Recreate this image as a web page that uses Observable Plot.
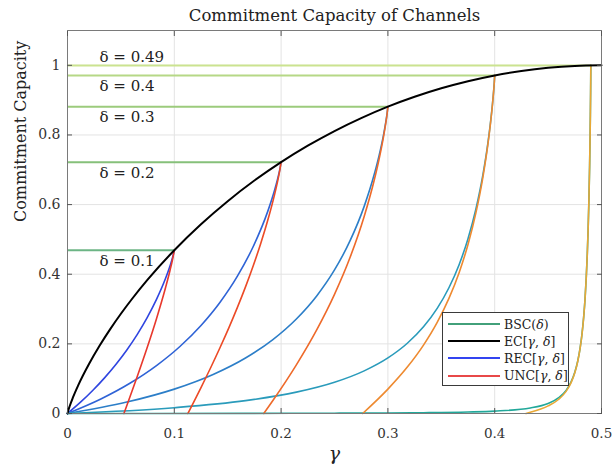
<!DOCTYPE html>
<html><head><meta charset="utf-8">
<script src="https://cdn.jsdelivr.net/npm/d3@7"></script>
<script src="https://cdn.jsdelivr.net/npm/@observablehq/plot@0.6"></script>
<style>
body{margin:0;background:#fff;}
#wrap{position:relative;width:612px;height:466px;font-family:"DejaVu Serif",serif;}
#legend{position:absolute;left:442px;top:312px;width:127px;height:74px;border:1px solid #3a3a3a;background:#fff;box-sizing:border-box;font-size:12.5px;color:#222;}
.row{position:absolute;left:0;height:17px;display:flex;align-items:center;white-space:nowrap;}
.row svg{margin-left:5px;margin-right:4px;}
</style></head><body><div id="wrap"><div id="legend"></div></div>
<script>
// ---------- data ----------
const titleText = "Commitment Capacity of Channels";
const xLabel = "γ";
const yLabel = "Commitment Capacity";
const xTicks = [0, 0.1, 0.2, 0.3, 0.4, 0.5];
const xTickLabels = ["0", "0.1", "0.2", "0.3", "0.4", "0.5"];
const yTicks = [0, 0.2, 0.4, 0.6, 0.8, 1];
const yTickLabels = ["0", "0.2", "0.4", "0.6", "0.8", "1"];

const deltas = [0.1, 0.2, 0.3, 0.4, 0.49];
const bscCap = [0.469, 0.7219, 0.8813, 0.971, 0.9997];

// EC[γ,δ]
const ecX = [0, 0.001, 0.002, 0.005, 0.01, 0.02, 0.03, 0.04, 0.05, 0.06, 0.075, 0.1, 0.125, 0.15, 0.175, 0.2, 0.225, 0.25, 0.275, 0.3, 0.325, 0.35, 0.375, 0.4, 0.425, 0.45, 0.475, 0.5];
const ecY = [0, 0.0114, 0.0208, 0.0454, 0.0808, 0.1414, 0.1944, 0.2423, 0.2864, 0.3274, 0.3843, 0.4690, 0.5436, 0.6098, 0.6690, 0.7219, 0.7692, 0.8113, 0.8485, 0.8813, 0.9097, 0.9341, 0.9544, 0.9710, 0.9837, 0.9928, 0.9982, 1];

// REC[γ,δ]
const rec1X = [0, 0.0122, 0.02381, 0.03488, 0.04545, 0.05556, 0.06522, 0.07447, 0.08333, 0.09184, 0.09596, 0.09839, 0.1];
const rec1Y = [0, 0.0325, 0.0668, 0.1031, 0.1416, 0.1826, 0.2267, 0.2746, 0.3276, 0.3882, 0.4236, 0.4482, 0.469];
const rec2X = [0, 0.03125, 0.05882, 0.08333, 0.10526, 0.125, 0.14286, 0.15909, 0.17391, 0.1875, 0.19388, 0.19697, 0.1988, 0.2];
const rec2Y = [0, 0.0418, 0.0876, 0.1377, 0.1925, 0.2529, 0.3197, 0.3945, 0.4796, 0.5805, 0.6411, 0.6765, 0.7011, 0.7219];
const rec3X = [0, 0.05556, 0.1, 0.13636, 0.16667, 0.19231, 0.21429, 0.23333, 0.25, 0.26471, 0.27778, 0.28723, 0.29167, 0.29592, 0.29798, 0.2992, 0.3];
const rec3Y = [0, 0.0328, 0.07, 0.1121, 0.1594, 0.2123, 0.2715, 0.3377, 0.4123, 0.497, 0.5949, 0.6869, 0.7399, 0.8005, 0.8359, 0.8605, 0.8813];
const rec4X = [0, 0.1, 0.16667, 0.21429, 0.25, 0.27778, 0.3, 0.31818, 0.33333, 0.34615, 0.35714, 0.36667, 0.375, 0.38235, 0.38889, 0.39362, 0.39583, 0.39796, 0.39899, 0.3996, 0.4];
const rec4Y = [0, 0.0166, 0.0369, 0.0613, 0.0897, 0.1225, 0.1597, 0.2018, 0.2491, 0.302, 0.3612, 0.4274, 0.502, 0.5867, 0.6846, 0.7766, 0.8296, 0.8902, 0.9256, 0.9502, 0.971];
const rec5X = [0, 0.16667, 0.25, 0.3, 0.33333, 0.375, 0.4, 0.43333, 0.45, 0.46, 0.46667, 0.47143, 0.475, 0.47778, 0.48, 0.48182, 0.48333, 0.48462, 0.48571, 0.48667, 0.4875, 0.48824, 0.48889, 0.48936, 0.48958, 0.4898, 0.4899, 0.49];
const rec5Y = [0, 0.0004, 0.0009, 0.0015, 0.0023, 0.0043, 0.0069, 0.016, 0.0287, 0.0453, 0.0656, 0.09, 0.1184, 0.1512, 0.1884, 0.2305, 0.2778, 0.3307, 0.3899, 0.4561, 0.5307, 0.6154, 0.7133, 0.8053, 0.8583, 0.9189, 0.9543, 0.9997];

// UNC[γ,δ]
const unc1X = [0.05279, 0.05556, 0.06044, 0.06522, 0.07447, 0.08333, 0.09184, 0.09596, 0.09839, 0.1];
const unc1Y = [0, 0.0232, 0.0644, 0.1055, 0.188, 0.2724, 0.3618, 0.4107, 0.4431, 0.469];
const unc2X = [0.1127, 0.125, 0.13415, 0.14286, 0.15116, 0.15909, 0.16667, 0.17391, 0.18085, 0.1875, 0.19388, 0.19697, 0.1988, 0.2];
const unc2Y = [0, 0.0746, 0.1322, 0.1895, 0.2467, 0.3047, 0.3636, 0.4243, 0.4876, 0.5548, 0.6287, 0.6704, 0.6987, 0.7219];
const unc3X = [0.18377, 0.19231, 0.21429, 0.23333, 0.25, 0.26471, 0.27778, 0.28723, 0.29167, 0.29592, 0.29798, 0.2992, 0.3];
const unc3Y = [0, 0.0373, 0.1398, 0.2402, 0.3423, 0.4494, 0.566, 0.6707, 0.7295, 0.7954, 0.8334, 0.8595, 0.8813];
const unc4X = [0.27639, 0.3, 0.31818, 0.33333, 0.34615, 0.35714, 0.36667, 0.375, 0.38235, 0.38889, 0.39362, 0.39583, 0.39796, 0.39899, 0.3996, 0.4];
const unc4Y = [0, 0.07, 0.1332, 0.1964, 0.2616, 0.3305, 0.4045, 0.4854, 0.5754, 0.6777, 0.7727, 0.8271, 0.889, 0.925, 0.95, 0.971];
const unc5X = [0.42929, 0.43333, 0.45, 0.46, 0.46667, 0.47143, 0.475, 0.47778, 0.48, 0.48182, 0.48333, 0.48462, 0.48571, 0.48667, 0.4875, 0.48824, 0.48889, 0.48936, 0.48958, 0.4898, 0.4899, 0.49];
const unc5Y = [0, 0.0034, 0.0218, 0.041, 0.0627, 0.0879, 0.1169, 0.1501, 0.1876, 0.2298, 0.2773, 0.3303, 0.3896, 0.4559, 0.5306, 0.6153, 0.7132, 0.8053, 0.8583, 0.9189, 0.9543, 0.9997];

const legendNames = ["BSC(<i>δ</i>)", "EC[<i>γ</i>, <i>δ</i>]", "REC[<i>γ</i>, <i>δ</i>]", "UNC[<i>γ</i>, <i>δ</i>]"];

// ---------- styles ----------
const bscColors = ["#6cb585", "#86c07a", "#9ccb7c", "#b6d886", "#cbe390"];
const recColors = ["#2f45e0", "#2f63d6", "#2c7ec8", "#2a9bbb", "#22a89a"];
const uncColors = ["#e8382c", "#ec4a26", "#ee6a2a", "#ee8a30", "#e8a836"];
const legendColors = ["#42a07a", "#000000", "#3344f0", "#e84848"];
const FONT = "DejaVu Serif";

const rows = (xs, ys) => xs.map((x, i) => ({x, y: ys[i]}));
const recData = [[rec1X, rec1Y], [rec2X, rec2Y], [rec3X, rec3Y], [rec4X, rec4Y], [rec5X, rec5Y]];
const uncData = [[unc1X, unc1Y], [unc2X, unc2Y], [unc3X, unc3Y], [unc4X, unc4Y], [unc5X, unc5Y]];
const bscRows = deltas.map((d, i) => ({delta: d, cap: bscCap[i], color: bscColors[i]}));
const labelX = 0.03;

const marks = [
  Plot.gridX(xTicks, {stroke: "#e3e3e3", strokeOpacity: 1}),
  Plot.gridY(yTicks, {stroke: "#e3e3e3", strokeOpacity: 1}),
];
bscRows.forEach(r => marks.push(Plot.ruleY([r], {y: "cap", x1: () => 0, x2: "delta", stroke: r.color, strokeWidth: 2})));
recData.forEach(([xs, ys], i) => marks.push(Plot.line(rows(xs, ys), {x: "x", y: "y", stroke: recColors[i], strokeWidth: 1.6, curve: "monotone-x"})));
uncData.forEach(([xs, ys], i) => marks.push(Plot.line(rows(xs, ys), {x: "x", y: "y", stroke: uncColors[i], strokeWidth: 1.6, curve: "monotone-x"})));
marks.push(Plot.line(rows(ecX, ecY), {x: "x", y: "y", stroke: "#000", strokeWidth: 2, curve: "monotone-x"}));
marks.push(
  Plot.text(bscRows.filter(r => r.delta > 0.45), {x: () => labelX, y: "cap", text: r => `δ = ${r.delta}`, textAnchor: "start", lineAnchor: "middle", dy: -8, fontSize: 15, fill: "#222"}),
  Plot.text(bscRows.filter(r => r.delta < 0.45), {x: () => labelX, y: "cap", text: r => `δ = ${r.delta}`, textAnchor: "start", lineAnchor: "middle", dy: 11, fontSize: 15, fill: "#222"}),
  Plot.frame({stroke: "#7a7a7a"}),
  Plot.axisX(xTicks, {anchor: "bottom", tickSize: -5, tickPadding: 20, tickFormat: d => xTickLabels[xTicks.indexOf(d)], fontSize: 13.5, label: null, stroke: "#555", fill: "#333"}),
  Plot.axisX(xTicks, {anchor: "top", tickSize: -5, tickFormat: () => "", label: null, stroke: "#555"}),
  Plot.axisY(yTicks, {anchor: "left", tickSize: -5, tickPadding: 12, tickFormat: d => yTickLabels[yTicks.indexOf(d)], fontSize: 14, label: null, stroke: "#555", fill: "#333"}),
  Plot.axisY(yTicks, {anchor: "right", tickSize: -5, tickFormat: () => "", label: null, stroke: "#555"}),
  Plot.text([titleText], {text: d => d, frameAnchor: "top", dy: -15, lineAnchor: "middle", fontSize: 16.5, fill: "#222"}),
  Plot.text([yLabel], {text: d => d, frameAnchor: "left", dx: -47, rotate: -90, lineAnchor: "middle", fontSize: 16, fill: "#222"}),
  Plot.text([xLabel], {text: d => d, frameAnchor: "bottom", dy: 40, lineAnchor: "middle", fontSize: 19, fontStyle: "italic", fill: "#222"})
);

const chart = Plot.plot({
  width: 612, height: 466,
  marginLeft: 67, marginRight: 11, marginTop: 30, marginBottom: 53,
  x: {domain: [0, 0.5]},
  y: {domain: [0, 1.1]},
  style: {fontFamily: FONT, background: "#fff", overflow: "visible"},
  marks
});
const wrap = document.getElementById("wrap");
wrap.insertBefore(chart, wrap.firstChild);

const legend = document.getElementById("legend");
legendNames.forEach((name, i) => {
  const row = document.createElement("div");
  row.className = "row";
  row.style.top = (2.5 + i * 17.2) + "px";
  row.innerHTML = `<svg width="52" height="6"><line x1="0" x2="52" y1="3" y2="3" stroke="${legendColors[i]}" stroke-width="2"/></svg><span>${name}</span>`;
  legend.appendChild(row);
});
</script></body></html>
